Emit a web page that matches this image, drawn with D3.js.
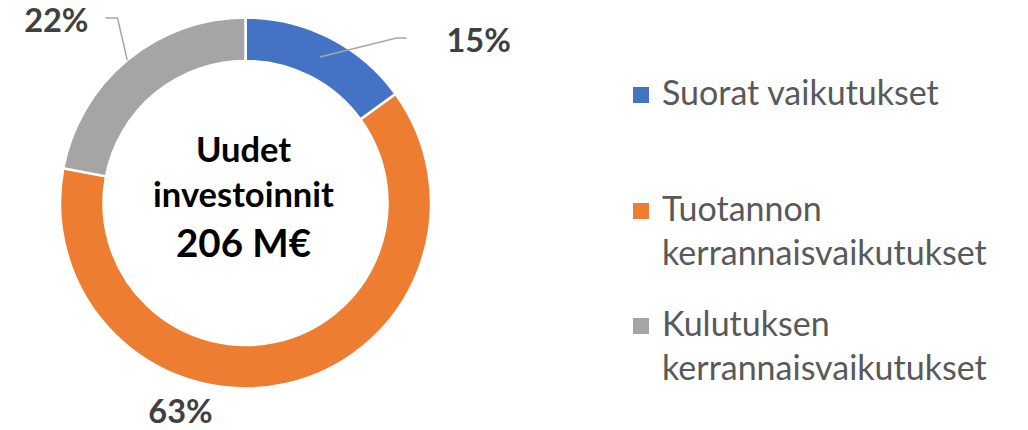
<!DOCTYPE html>
<html>
<head>
<meta charset="utf-8">
<script src="https://cdn.jsdelivr.net/npm/d3@7"></script>
<style>
  body { margin: 0; background: #fff; }
  svg { display: block; }
</style>
</head>
<body>
<svg id="chart" width="1028" height="430"></svg>
<script>
// data
var categories = ['Suorat vaikutukset', 'Tuotannon kerrannaisvaikutukset', 'Kulutuksen kerrannaisvaikutukset'];
var legendLines = [['Suorat vaikutukset'], ['Tuotannon', 'kerrannaisvaikutukset'], ['Kulutuksen', 'kerrannaisvaikutukset']];
var shares = [15, 63, 22];
var centerLines = ['Uudet', 'investoinnit', '206 M€'];

var colours = ['#4472C4', '#ED7D31', '#A5A5A5'];
var font = 'Lato, "Open Sans", sans-serif';

var svg = d3.select('#chart');
var cx = 245.5, cy = 203;
var outerR = 185.5, innerR = 142;

var pie = d3.pie().sort(null).value(function(d){ return d; });
var arc = d3.arc().innerRadius(innerR).outerRadius(outerR);
var arcs = pie(shares);

var g = svg.append('g').attr('transform', 'translate(' + cx + ',' + cy + ')');

g.selectAll('path')
    .data(arcs)
  .enter()
    .append('path')
    .attr('d', arc)
    .attr('fill', function(d, i){ return colours[i]; })
    .attr('stroke', '#fff')
    .attr('stroke-width', 2.5);

// leader lines + labels (layout placement like Excel's best fit)
var labelLayout = [
    {anchor: 'start', x: 201, y: -151, line: 'centroid', elbow: [151, -165], end: [161, -165]},
    {anchor: 'middle', x: -65, y: 220, line: null},
    {anchor: 'end', x: -157, y: -171, line: 'outer', elbow: [-128, -185], end: [-140, -185]}
];

function polar(angle, r){
    return [Math.sin(angle) * r, -Math.cos(angle) * r];
}

arcs.forEach(function(d, i){
    var L = labelLayout[i];
    var mid = (d.startAngle + d.endAngle) / 2;
    if(L.line){
        var start = L.line === 'centroid' ? arc.centroid(d) : polar(mid, outerR);
        g.append('polyline')
            .attr('points', [start, L.elbow, L.end].map(function(p){ return p.join(','); }).join(' '))
            .attr('fill', 'none')
            .attr('stroke', '#A6A6A6')
            .attr('stroke-width', 1.5);
    }
    g.append('text')
        .attr('x', L.x)
        .attr('y', L.y)
        .attr('text-anchor', L.anchor)
        .attr('font-family', font)
        .attr('font-weight', 'bold')
        .attr('font-size', 32.5)
        .attr('fill', '#404040')
        .text(d3.format('.0f')(d.data) + '%');
});

// centre text
var centre = g.append('text')
    .attr('text-anchor', 'middle')
    .attr('font-family', font)
    .attr('font-weight', 'bold')
    .attr('fill', '#000');
var centreY = [-41, 4, 54];
var centreSize = [34.5, 34.5, 38.5];
centerLines.forEach(function(t, i){
    centre.append('tspan')
        .attr('x', -2)
        .attr('y', centreY[i])
        .attr('font-size', centreSize[i])
        .text(t);
});

// legend
var legendY = [105, 221, 336];
var legend = svg.append('g').attr('transform', 'translate(633,0)');
legendLines.forEach(function(lines, i){
    var item = legend.append('g');
    item.append('rect')
        .attr('x', 0)
        .attr('y', legendY[i] - 18)
        .attr('width', 16)
        .attr('height', 16)
        .attr('fill', colours[i]);
    var t = item.append('text')
        .attr('font-family', font)
        .attr('font-size', 34)
        .attr('fill', '#595959');
    lines.forEach(function(l, j){
        t.append('tspan')
            .attr('x', 29)
            .attr('y', legendY[i] + j * 44)
            .text(l);
    });
});
</script>
</body>
</html>
